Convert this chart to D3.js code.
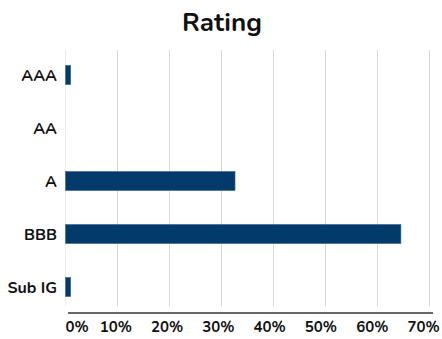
<!DOCTYPE html>
<html>
<head>
<meta charset="utf-8">
<script src="https://cdn.jsdelivr.net/npm/d3@7"></script>
<style>
body { margin: 0; background: #fff; }
text { font-family: "Nunito", "Lato", "Open Sans", sans-serif; }
</style>
</head>
<body>
<div id="chart-area"></div>
<script>
var width = 442;
var height = 339;

var categories = ["AAA", "AA", "A", "BBB", "Sub IG"];
var values = [1, 0, 32.6, 64.5, 1];
var ticks = [0, 10, 20, 30, 40, 50, 60, 70];

var svg = d3.select("#chart-area").append("svg")
    .attr("width", width)
    .attr("height", height);

var x = d3.scaleLinear()
    .domain([0, 70])
    .range([65.5, 429.5]);

var y = d3.scaleBand()
    .domain(categories)
    .range([48.5, 313.5])
    .paddingInner(0.64)
    .paddingOuter(0.32);

// title
svg.append("text")
    .attr("x", 222)
    .attr("y", 31)
    .attr("text-anchor", "middle")
    .attr("font-size", 26)
    .attr("font-weight", "bold")
    .attr("fill", "#111")
    .text("Rating");

// grid lines
svg.selectAll(".grid")
    .data(ticks)
    .enter()
    .append("line")
    .attr("class", "grid")
    .attr("x1", function(d) { return x(d); })
    .attr("x2", function(d) { return x(d); })
    .attr("y1", 50)
    .attr("y2", 306)
    .attr("stroke", function(d) { return d === 0 ? "#ececec" : "#d9d9d9"; })
    .attr("stroke-width", 1);

// bars
svg.selectAll(".bar")
    .data(values)
    .enter()
    .append("rect")
    .attr("class", "bar")
    .attr("x", x(0))
    .attr("y", function(d, i) { return y(categories[i]); })
    .attr("width", function(d) { return x(d) - x(0); })
    .attr("height", y.bandwidth())
    .attr("fill", "#023a6b")
    .attr("stroke", function(d) { return d > 0 ? "#3d6a93" : "none"; })
    .attr("stroke-width", 0.6);

// category labels
svg.selectAll(".cat")
    .data(categories)
    .enter()
    .append("text")
    .attr("class", "cat")
    .attr("x", 57)
    .attr("y", function(d) { return y(d) + y.bandwidth() / 2; })
    .attr("dy", "0.35em")
    .attr("text-anchor", "end")
    .attr("font-size", 16)
    .attr("font-weight", "bold")
    .attr("fill", "#111")
    .text(function(d) { return d; });

// x axis
var xAxis = d3.axisBottom(x)
    .tickValues(ticks)
    .tickSize(0)
    .tickPadding(8)
    .tickFormat(function(d) { return d + "%"; });

var gx = svg.append("g")
    .attr("transform", "translate(0,313)")
    .call(xAxis);

gx.select(".domain").remove();
gx.append("line")
    .attr("x1", 68)
    .attr("x2", 433)
    .attr("stroke", "#666")
    .attr("stroke-width", 2);

gx.selectAll("text")
    .attr("font-size", 15)
    .attr("font-weight", "bold")
    .attr("fill", "#111")
    .attr("font-family", "Nunito, Lato, 'Open Sans', sans-serif")
    .attr("dx", function(d) { return d === 0 ? 11 : -1.5 - d / 70 * 5; });
</script>
</body>
</html>
